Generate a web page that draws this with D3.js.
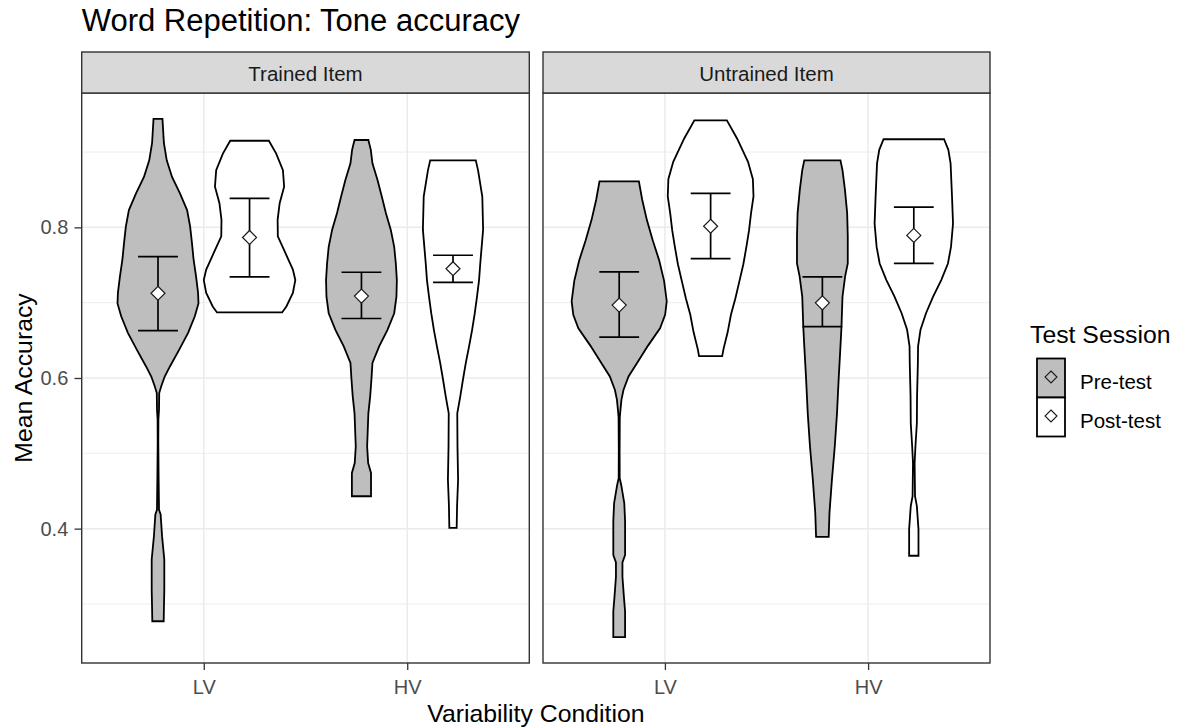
<!DOCTYPE html>
<html>
<head>
<meta charset="utf-8">
<script src="https://cdn.jsdelivr.net/npm/d3@7"></script>
<style>
  html, body { margin: 0; padding: 0; background: #fff; }
  svg { display: block; font-family: "Liberation Sans", Arial, sans-serif; }
</style>
</head>
<body>
<svg id="chart" width="1191" height="727"></svg>
<script>
// ---- data -------------------------------------------------------------
const facets = ["Trained Item", "Untrained Item"];
const conditions = ["LV", "HV"];
const sessions = ["Pre-test", "Post-test"];
const yTicks = [0.4, 0.6, 0.8];
const yMinorTicks = [0.3, 0.5, 0.7, 0.9];

// Violin outlines: [mean accuracy, half width in condition units]
const trainedLvPre = [
  [0.944, 0.022], [0.912, 0.029], [0.889, 0.043], [0.867, 0.069], [0.845, 0.108],
  [0.823, 0.143], [0.801, 0.158], [0.779, 0.167], [0.757, 0.175], [0.735, 0.187],
  [0.713, 0.197], [0.699, 0.199], [0.682, 0.181], [0.660, 0.148], [0.637, 0.103],
  [0.615, 0.058], [0.602, 0.033], [0.589, 0.016], [0.580, 0.006], [0.558, 0.005],
  [0.545, 0.002], [0.514, 0.0015], [0.469, 0.003], [0.425, 0.005], [0.419, 0.013],
  [0.390, 0.020], [0.359, 0.031], [0.319, 0.031], [0.293, 0.029], [0.277, 0.028]
];
const trainedLvPost = [
  [0.915, 0.095], [0.898, 0.131], [0.876, 0.164], [0.854, 0.170], [0.832, 0.148],
  [0.810, 0.138], [0.788, 0.139], [0.766, 0.176], [0.744, 0.213], [0.730, 0.225],
  [0.713, 0.213], [0.695, 0.181], [0.687, 0.160]
];
const trainedHvPre = [
  [0.916, 0.034], [0.903, 0.046], [0.885, 0.054], [0.863, 0.079], [0.841, 0.100],
  [0.819, 0.120], [0.797, 0.144], [0.774, 0.161], [0.752, 0.169], [0.730, 0.174],
  [0.708, 0.172], [0.686, 0.161], [0.664, 0.128], [0.642, 0.087], [0.620, 0.054],
  [0.598, 0.049], [0.576, 0.043], [0.553, 0.034], [0.531, 0.031], [0.509, 0.028],
  [0.487, 0.033], [0.474, 0.047], [0.443, 0.047]
];
const trainedHvPost = [
  [0.889, 0.112], [0.876, 0.123], [0.841, 0.144], [0.797, 0.148], [0.752, 0.134],
  [0.730, 0.128], [0.708, 0.118], [0.686, 0.107], [0.664, 0.094], [0.642, 0.079],
  [0.620, 0.063], [0.598, 0.049], [0.576, 0.036], [0.553, 0.021], [0.509, 0.022],
  [0.465, 0.025], [0.430, 0.020], [0.401, 0.018]
];
const untrainedLvPre = [
  [0.861, 0.097], [0.837, 0.113], [0.810, 0.136], [0.783, 0.165], [0.756, 0.197],
  [0.729, 0.221], [0.702, 0.234], [0.684, 0.226], [0.666, 0.201], [0.643, 0.142],
  [0.620, 0.088], [0.602, 0.046], [0.584, 0.021], [0.571, 0.011], [0.557, 0.006],
  [0.548, 0.003], [0.503, 0.002], [0.467, 0.0025], [0.458, 0.010], [0.434, 0.025],
  [0.410, 0.029], [0.365, 0.029], [0.355, 0.016], [0.336, 0.016], [0.310, 0.023],
  [0.290, 0.029], [0.256, 0.029]
];
const untrainedLvPost = [
  [0.942, 0.080], [0.918, 0.130], [0.887, 0.184], [0.864, 0.208], [0.841, 0.211],
  [0.819, 0.199], [0.796, 0.189], [0.774, 0.176], [0.751, 0.161], [0.729, 0.142],
  [0.706, 0.122], [0.684, 0.100], [0.661, 0.084], [0.638, 0.063], [0.629, 0.057]
];
const untrainedHvPre = [
  [0.889, 0.089], [0.876, 0.099], [0.850, 0.111], [0.819, 0.122], [0.788, 0.125],
  [0.752, 0.125], [0.735, 0.112], [0.708, 0.099], [0.668, 0.094], [0.642, 0.089],
  [0.598, 0.080], [0.553, 0.072], [0.509, 0.061], [0.465, 0.047], [0.421, 0.035],
  [0.389, 0.031]
];
const untrainedHvPost = [
  [0.917, 0.149], [0.903, 0.170], [0.885, 0.181], [0.841, 0.188], [0.805, 0.193],
  [0.774, 0.183], [0.752, 0.168], [0.730, 0.135], [0.708, 0.095], [0.686, 0.060],
  [0.664, 0.033], [0.642, 0.021], [0.620, 0.020], [0.576, 0.016], [0.540, 0.015],
  [0.509, 0.008], [0.487, 0.004], [0.443, 0.006], [0.430, 0.015], [0.399, 0.023],
  [0.364, 0.023]
];

// Means and error-bar limits, ordered [LV pre, LV post, HV pre, HV post]
const trainedMean   = [0.7125, 0.7866, 0.7088, 0.7451];
const trainedLow    = [0.6628, 0.7342, 0.6790, 0.7270];
const trainedHigh   = [0.7611, 0.8386, 0.7404, 0.7630];
const untrainedMean = [0.6968, 0.8015, 0.6998, 0.7893];
const untrainedLow  = [0.6542, 0.7585, 0.6682, 0.7523];
const untrainedHigh = [0.7410, 0.8450, 0.7342, 0.8270];

// ---- table built from the arrays ---------------------------------------
const profiles = {
  "Trained Item":   [trainedLvPre, trainedLvPost, trainedHvPre, trainedHvPost],
  "Untrained Item": [untrainedLvPre, untrainedLvPost, untrainedHvPre, untrainedHvPost]
};
const stats = {
  "Trained Item":   { mean: trainedMean, low: trainedLow, high: trainedHigh },
  "Untrained Item": { mean: untrainedMean, low: untrainedLow, high: untrainedHigh }
};
const rows = [];
facets.forEach(f => {
  conditions.forEach((c, ci) => {
    sessions.forEach((s, si) => {
      const k = ci * 2 + si;
      rows.push({
        facet: f, condition: c, session: s,
        profile: profiles[f][k],
        mean: stats[f].mean[k], low: stats[f].low[k], high: stats[f].high[k]
      });
    });
  });
});

// ---- layout -------------------------------------------------------------
const svg = d3.select("#chart");
const font = "'Liberation Sans', Arial, sans-serif";
const stripTop = 52, panelTop = 93, panelBottom = 663;
const panelSpans = [[81.7, 529.3], [543, 990]];
const dodge = { "Pre-test": -0.225, "Post-test": 0.225 };
const capHalf = 0.098;          // error-bar cap half width, condition units
const fills = { "Pre-test": "#BEBEBE", "Post-test": "#FFFFFF" };

// y range: data extent with 5% expansion
const allVals = rows.flatMap(r => r.profile.map(p => p[0]));
const [vMin, vMax] = d3.extent(allVals);
const pad = (vMax - vMin) * 0.05;
const y = d3.scaleLinear().domain([vMin - pad, vMax + pad]).range([panelBottom, panelTop]);

const line = d3.line().curve(d3.curveLinearClosed);

facets.forEach((f, fi) => {
  const [x0, x1] = panelSpans[fi];
  const x = d3.scalePoint().domain(conditions).range([x0, x1]).padding(0.6);
  const unit = x.step();
  const g = svg.append("g");

  // panel background and grid
  g.append("rect").attr("x", x0).attr("y", panelTop)
    .attr("width", x1 - x0).attr("height", panelBottom - panelTop).attr("fill", "#fff");
  g.selectAll(".minor").data(yMinorTicks).join("line")
    .attr("x1", x0).attr("x2", x1).attr("y1", d => y(d)).attr("y2", d => y(d))
    .attr("stroke", "#EBEBEB").attr("stroke-width", 0.9);
  g.selectAll(".majorY").data(yTicks).join("line")
    .attr("x1", x0).attr("x2", x1).attr("y1", d => y(d)).attr("y2", d => y(d))
    .attr("stroke", "#EBEBEB").attr("stroke-width", 1.5);
  g.selectAll(".majorX").data(conditions).join("line")
    .attr("x1", d => x(d)).attr("x2", d => x(d)).attr("y1", panelTop).attr("y2", panelBottom)
    .attr("stroke", "#EBEBEB").attr("stroke-width", 1.5);

  const facetRows = rows.filter(r => r.facet === f);
  const cxOf = r => x(r.condition) + dodge[r.session] * unit;

  // violins
  g.selectAll(".violin").data(facetRows).join("path")
    .attr("d", r => {
      const cx = cxOf(r);
      const sorted = r.profile.slice().sort((a, b) => b[0] - a[0]);
      const right = sorted.map(p => [cx + p[1] * unit, y(p[0])]);
      const left = sorted.slice().reverse().map(p => [cx - p[1] * unit, y(p[0])]);
      return line(right.concat(left));
    })
    .attr("fill", r => fills[r.session])
    .attr("stroke", "#000").attr("stroke-width", 1.8).attr("stroke-linejoin", "miter");

  // error bars
  const eb = g.selectAll(".eb").data(facetRows).join("g");
  eb.append("line")
    .attr("x1", cxOf).attr("x2", cxOf)
    .attr("y1", r => y(r.low)).attr("y2", r => y(r.high));
  eb.append("line")
    .attr("x1", r => cxOf(r) - capHalf * unit).attr("x2", r => cxOf(r) + capHalf * unit)
    .attr("y1", r => y(r.high)).attr("y2", r => y(r.high));
  eb.append("line")
    .attr("x1", r => cxOf(r) - capHalf * unit).attr("x2", r => cxOf(r) + capHalf * unit)
    .attr("y1", r => y(r.low)).attr("y2", r => y(r.low));
  eb.selectAll("line").attr("stroke", "#000").attr("stroke-width", 1.7);

  // means as open diamonds
  const dm = 7;
  g.selectAll(".mean").data(facetRows).join("path")
    .attr("d", r => {
      const cx = cxOf(r), cy = y(r.mean);
      return `M${cx},${cy - dm}L${cx + dm},${cy}L${cx},${cy + dm}L${cx - dm},${cy}Z`;
    })
    .attr("fill", "#fff").attr("stroke", "#1a1a1a").attr("stroke-width", 1.2);

  // panel border
  g.append("rect").attr("x", x0).attr("y", panelTop)
    .attr("width", x1 - x0).attr("height", panelBottom - panelTop)
    .attr("fill", "none").attr("stroke", "#333").attr("stroke-width", 1.4);

  // strip
  g.append("rect").attr("x", x0).attr("y", stripTop)
    .attr("width", x1 - x0).attr("height", panelTop - stripTop)
    .attr("fill", "#D9D9D9").attr("stroke", "#333").attr("stroke-width", 1.4);
  g.append("text").attr("x", (x0 + x1) / 2).attr("y", 81)
    .attr("text-anchor", "middle").attr("font-size", 20.5).attr("fill", "#1A1A1A")
    .text(f);

  // x axis
  const xa = svg.append("g").attr("transform", `translate(0,${panelBottom})`)
    .call(d3.axisBottom(x).tickSize(7).tickPadding(9.5));
  xa.select(".domain").remove();
  xa.selectAll(".tick line").attr("stroke", "#333").attr("stroke-width", 1.3);
  xa.selectAll(".tick text").attr("fill", "#4D4D4D").attr("font-size", 20)
    .attr("font-family", font);

  // y axis on the first panel
  if (fi === 0) {
    const ya = svg.append("g").attr("transform", `translate(${x0},0)`)
      .call(d3.axisLeft(y).tickValues(yTicks).tickSize(7.2).tickPadding(6.2)
        .tickFormat(d3.format(".1f")));
    ya.select(".domain").remove();
    ya.selectAll(".tick line").attr("stroke", "#333").attr("stroke-width", 1.3);
    ya.selectAll(".tick text").attr("fill", "#4D4D4D").attr("font-size", 20)
      .attr("font-family", font);
  }
});

// ---- titles -------------------------------------------------------------
svg.append("text").attr("x", 81.7).attr("y", 31)
  .attr("font-size", 31).attr("fill", "#000")
  .text("Word Repetition: Tone accuracy");

svg.append("text").attr("x", (panelSpans[0][0] + panelSpans[1][1]) / 2).attr("y", 722)
  .attr("text-anchor", "middle").attr("font-size", 24.8).attr("fill", "#000")
  .text("Variability Condition");

svg.append("text")
  .attr("transform", `translate(32.3,${(panelTop + panelBottom) / 2}) rotate(-90)`)
  .attr("text-anchor", "middle").attr("font-size", 24.8).attr("fill", "#000")
  .text("Mean Accuracy");

// ---- legend -------------------------------------------------------------
const legend = svg.append("g");
legend.append("text").attr("x", 1030).attr("y", 343)
  .attr("font-size", 24.8).attr("fill", "#000").text("Test Session");

const keyX = 1037, keyW = 28, keyTop = 358.5, keyH = 39;
const keys = legend.selectAll(".key").data(sessions).join("g")
  .attr("transform", (d, i) => `translate(${keyX},${keyTop + i * keyH})`);
keys.append("rect").attr("width", keyW).attr("height", keyH)
  .attr("fill", d => fills[d]).attr("stroke", "#000").attr("stroke-width", 1.8);
keys.append("path")
  .attr("d", () => {
    const cx = keyW / 2, cy = keyH / 2 - 1, s = 6;
    return `M${cx},${cy - s}L${cx + s},${cy}L${cx},${cy + s}L${cx - s},${cy}Z`;
  })
  .attr("fill", "none").attr("stroke", "#1a1a1a").attr("stroke-width", 1.1);
keys.append("text").attr("x", 1080 - keyX).attr("y", keyH / 2 + 11)
  .attr("font-size", 20.5).attr("fill", "#000").text(d => d);
</script>
</body>
</html>
